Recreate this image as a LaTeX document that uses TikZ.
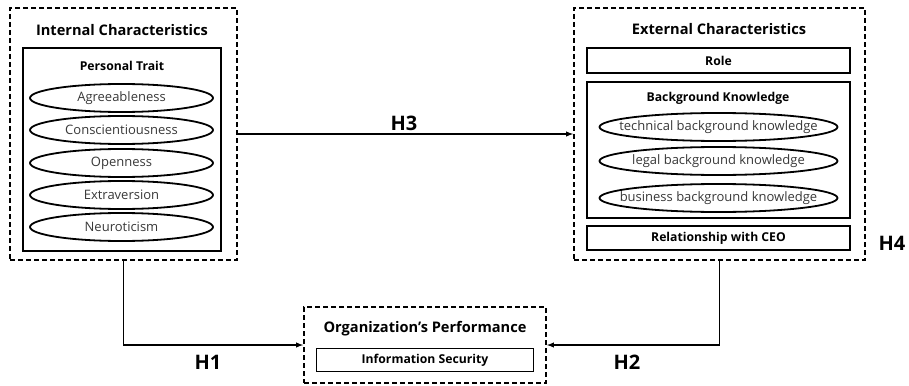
\documentclass[tikz,border=0pt]{standalone}
\usepackage{fontspec}
\setmainfont{Open Sans}
\usetikzlibrary{shapes.geometric}

\begin{document}
\begin{tikzpicture}[x=1pt, y=-1pt,
	group/.style={draw=black, line width=1.8pt, dash pattern=on 5pt off 3pt, rectangle, inner sep=0pt},
	box/.style={draw=black, line width=1.8pt, rectangle, inner sep=0pt, font=\fontsize{12.2}{14}\selectfont\bfseries},
	trait/.style={draw=black, line width=1.8pt, ellipse, inner sep=0pt, text=black!78, font=\fontsize{13}{15}\selectfont},
	title/.style={font=\fontsize{14.6}{17}\selectfont\bfseries, inner sep=0pt},
	subtitle/.style={font=\fontsize{12.2}{14}\selectfont\bfseries, inner sep=0pt},
	hyp/.style={font=\fontsize{20}{22}\selectfont\bfseries, inner sep=0pt},
	link/.style={->, >=latex, line width=1.4pt}]

	\useasboundingbox (0, 0) rectangle (909, 385);

	% internal characteristics
	\node[group, minimum width=227pt, minimum height=252pt] (ic) at (123.5, 134) {};
	\node[title] (ictitle) at (122, 30) {Internal Characteristics};
	\node[box, minimum width=198pt, minimum height=203pt] (pt) at (122, 149.5) {};
	\node[subtitle] (pttitle) at (122, 66) {Personal Trait};
	\node[trait, minimum width=183pt, minimum height=28pt] (agr) at (121.5, 98)  {Agreeableness};
	\node[trait, minimum width=183pt, minimum height=28pt] (con) at (121.5, 130) {Conscientiousness};
	\node[trait, minimum width=183pt, minimum height=28pt] (ope) at (121.5, 163) {Openness};
	\node[trait, minimum width=183pt, minimum height=28pt] (ext) at (121.5, 195) {Extraversion};
	\node[trait, minimum width=183pt, minimum height=28pt] (neu) at (121.5, 227) {Neuroticism};

	% external characteristics
	\node[group, minimum width=291pt, minimum height=252pt] (ec) at (719.5, 134) {};
	\node[title] (ectitle) at (719, 29) {External Characteristics};
	\node[box, minimum width=263pt, minimum height=25pt] (role) at (718.5, 60.5) {Role};
	\node[box, minimum width=263pt, minimum height=136pt] (bk) at (718.5, 150) {};
	\node[subtitle] (bktitle) at (718, 98) {Background Knowledge};
	\node[trait, minimum width=238pt, minimum height=28pt] (tech) at (718.5, 127) {\makebox[160pt]{technical background knowledge}};
	\node[trait, minimum width=238pt, minimum height=28pt] (legal) at (718.5, 161) {\makebox[160pt]{legal background knowledge}};
	\node[trait, minimum width=238pt, minimum height=28pt] (bus) at (718.5, 198) {\makebox[160pt]{business background knowledge}};
	\node[box, minimum width=263pt, minimum height=24pt] (ceo) at (718.5, 238) {Relationship with CEO};

	% organization's performance
	\node[group, minimum width=242pt, minimum height=76pt] (org) at (425, 345) {};
	\node[title] (orgtitle) at (425, 329) {Organization’s Performance};
	\node[box, minimum width=217pt, minimum height=23pt] (sec) at (425, 360) {Information Security};

	% hypotheses
	\draw[link] (ic.east) -- (ec.west);
	\draw[link] (ic.south) |- (org.west);
	\draw[link] (ec.south) |- (org.east);

	\node[hyp] (h1) at (208, 362) {H1};
	\node[hyp] (h2) at (627, 362) {H2};
	\node[hyp] (h3) at (404, 123) {H3};
	\node[hyp] (h4) at (892, 243) {H4};

\end{tikzpicture}
\end{document}
